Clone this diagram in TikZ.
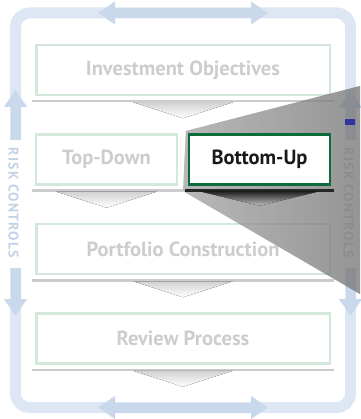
\documentclass[tikz,border=0pt]{standalone}
\usepackage{fontspec}
\setmainfont{PT Sans}
\usetikzlibrary{arrows.meta}

\definecolor{bandblue}{HTML}{DCE7F3}
\definecolor{arrowblue}{HTML}{C9D8EB}
\definecolor{riskblue}{HTML}{C3D2E6}
\definecolor{boxgreen}{HTML}{D4E7DB}
\definecolor{deepgreen}{HTML}{0D6A3A}
\definecolor{fadetext}{HTML}{CDCDCD}

\tikzset{
  stage/.style={draw=boxgreen, line width=2.5pt, fill=white, inner sep=0pt,
    minimum width=293.5pt, minimum height=50pt, text=fadetext,
    font=\bfseries\fontsize{20.5}{23}\selectfont},
  halfstage/.style={stage, minimum width=141pt},
  band/.style={draw=bandblue, line width=11pt, rounded corners=14pt},
  riskhead/.tip={Triangle[width=22pt 0 0, length=17pt 0 0]},
  riskarrow/.style={draw=arrowblue, line width=10pt, -riskhead},
  risktext/.style={text=riskblue, rotate=-90,
    font=\bfseries\fontsize{14}{16}\selectfont\addfontfeature{LetterSpace=8}},
  ledge/.style={draw=gray!40, line width=2.5pt},
  wedge/.style={top color=gray!35, bottom color=white}
}

\begin{document}
\begin{tikzpicture}[x=1pt,y=-1pt]
    \useasboundingbox (0,0) rectangle (360,419);

    % risk control loop
    \draw[band] (15.5,140) -- (15.5,13) -- (350.5,13) -- (350.5,140);
    \draw[band] (15.5,268) -- (15.5,407.5) -- (350.5,407.5) -- (350.5,268);
    \coordinate (lt) at (15.5,140);  \coordinate (ltip) at (15.5,90);
    \coordinate (lb) at (15.5,268);  \coordinate (lbot) at (15.5,316);
    \coordinate (rt) at (350.5,140); \coordinate (rtip) at (350.5,91);
    \coordinate (rb) at (350.5,268); \coordinate (rbot) at (350.5,316);
    \coordinate (tl) at (98,13);     \coordinate (tr) at (268,13);
    \coordinate (bl) at (98,407.5);  \coordinate (br) at (268,407.5);
    \draw[riskarrow] (lt) -- (ltip);
    \draw[riskarrow] (lb) -- (lbot);
    \draw[riskarrow] (rt) -- (rtip);
    \draw[riskarrow] (rb) -- (rbot);
    \draw[riskarrow, riskhead-riskhead] (tl) -- (tr);
    \draw[riskarrow, riskhead-riskhead] (bl) -- (br);
    \node[risktext] (riskleft) at (13.5,203) {RISK CONTROLS};
    \node[risktext] (riskright) at (348.5,203) {RISK CONTROLS};

    % process stages
    \node[stage] (objectives) at (183,70) {Investment Objectives};
    \node[halfstage] (topdown) at (106.5,159.5) {Top-Down};
    \node[stage] (portfolio) at (183,249) {Portfolio Construction};
    \node[stage] (review) at (183,338.5) {Review Process};

    \foreach \n in {objectives,portfolio,review} {
      \draw[ledge] ([xshift=-3pt,yshift=-5pt]\n.south west) -- ([xshift=3pt,yshift=-5pt]\n.south east);
      \fill[wedge] ([xshift=-50pt,yshift=-6pt]\n.south) -- ++(50,16) -- ++(50,-16) -- cycle;
    }
    \draw[ledge] ([xshift=-3pt,yshift=-5pt]topdown.south west) -- ([xshift=5pt,yshift=-5pt]topdown.south east);
    \fill[wedge] ([xshift=-50pt,yshift=-6pt]topdown.south) -- ++(50,16) -- ++(50,-16) -- cycle;

    % zoom wedge
    \fill[left color=gray!10, right color=gray!65, opacity=0.5]
      (186,131) -- (360,86) -- (360,294) -- (183,191) -- cycle;
    \fill[blue!55!black!80] (345,119) rectangle (355,125);

    % selected stage
    \node[halfstage, draw=deepgreen, text=black!90] (bottomup) at (259.5,159.5) {Bottom-Up};
    \draw[draw=black!85, line width=2.5pt] ([xshift=-3pt,yshift=-5pt]bottomup.south west) -- ([xshift=3pt,yshift=-5pt]bottomup.south east);
    \fill[top color=black!85, bottom color=gray!50] ([xshift=-58pt,yshift=-6pt]bottomup.south) -- ++(58,14) -- ++(58,-14) -- cycle;
  \end{tikzpicture}
\end{document}
